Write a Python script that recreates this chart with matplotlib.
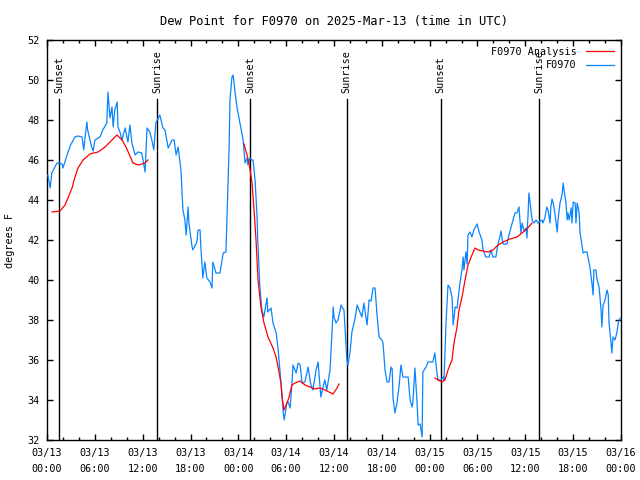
import matplotlib
matplotlib.use('Agg')
import matplotlib.pyplot as plt

plt.rcParams['font.family'] = ['DejaVu Sans Mono']
plt.rcParams['font.size'] = 7.3

title = 'Dew Point for F0970 on 2025-Mar-13 (time in UTC)'

# hours after 03/13 00:00 UTC, dew point in F
obs_hours = [0.1, 0.4, 0.6, 1.25, 1.9, 2.0, 2.4, 2.9, 3.5, 3.9, 4.4, 4.6, 5.0, 5.1, 5.6, 5.8, 6.0, 6.65, 7.0, 7.5,
             7.65, 7.9, 8.15, 8.3, 8.5, 8.8, 8.9, 9.15, 9.4, 9.8, 10.15, 10.4, 10.65, 11.05, 11.4, 11.9, 12.05, 12.3,
             12.55, 12.9, 13.15, 13.4, 13.65, 14.15, 14.55, 14.8, 15.2, 15.7, 15.95, 16.2, 16.45, 16.8, 16.95, 17.05,
             17.3, 17.45, 17.7, 17.8, 18.2, 18.3, 18.8, 18.95, 19.2, 19.3, 19.55, 19.8, 20.05, 20.45, 20.7, 20.8,
             21.2, 21.7, 22.1, 22.45, 22.6, 22.85, 22.95, 23.2, 23.35, 23.6, 23.85, 24.2, 24.6, 24.85, 25.1, 25.2,
             25.45, 25.7, 25.85, 26.1, 26.35, 26.45, 26.7, 26.95, 27.2, 27.6, 27.7, 28.1, 28.35, 28.75, 29.0, 29.25,
             29.5, 29.6, 29.75, 30.1, 30.25, 30.5, 30.75, 30.85, 31.25, 31.5, 31.75, 32.0, 32.35, 32.75, 33.1, 33.35,
             33.75, 34.0, 34.35, 34.6, 34.85, 35.1, 35.5, 35.75, 35.9, 36.0, 36.25, 36.5, 36.9, 37.0, 37.25, 37.4,
             37.6, 37.75, 38.0, 38.25, 38.65, 38.9, 39.25, 39.5, 39.75, 40.15, 40.4, 40.65, 40.9, 41.15, 41.4, 41.65,
             42.0, 42.15, 42.4, 42.65, 42.9, 43.15, 43.3, 43.4, 43.65, 43.9, 44.15, 44.4, 44.65, 44.9, 45.3, 45.55,
             45.8, 45.9, 46.15, 46.4, 46.55, 46.8, 47.05, 47.15, 47.55, 47.8, 48.4, 48.65, 48.9, 49.05, 49.4, 49.7,
             49.8, 50.05, 50.3, 50.55, 50.8, 50.95, 51.2, 51.45, 51.55, 51.8, 52.05, 52.2, 52.3, 52.55, 52.7, 52.8,
             53.05, 53.3, 53.55, 53.95, 54.2, 54.55, 54.7, 55.05, 55.45, 55.7, 55.95, 56.3, 56.55, 56.8, 56.95, 57.2,
             57.45, 57.7, 57.95, 58.35, 58.7, 58.95, 59.2, 59.45, 59.6, 59.85, 60.1, 60.2, 60.35, 60.45, 60.7, 60.85,
             61.1, 61.35, 61.6, 61.75, 62.1, 62.2, 62.45, 62.7, 62.85, 63.1, 63.2, 63.35, 63.5, 63.7, 64.0, 64.1,
             64.35, 64.6, 64.75, 64.85, 65.1, 65.25, 65.35, 65.5, 65.75, 65.85, 66.0, 66.25, 66.35, 66.5, 66.75,
             66.85, 67.1, 67.25, 67.5, 67.75, 67.85, 68.1, 68.35, 68.5, 68.6, 68.85, 69.0, 69.25, 69.5, 69.6, 69.75,
             70.0, 70.25, 70.4, 70.5, 70.75, 70.85, 71.0, 71.25, 71.5, 71.65, 71.9]
obs_dewpt = [45.25, 44.6, 45.35, 45.85, 45.8, 45.6, 46.1, 46.7, 47.15, 47.2, 47.15, 46.5, 47.9, 47.5, 46.65, 46.45,
             47.0, 47.15, 47.5, 47.85, 49.4, 48.1, 48.65, 47.65, 48.5, 48.9, 47.65, 47.4, 47.0, 47.6, 46.9, 47.75,
             46.85, 46.25, 46.4, 46.35, 46.0, 45.4, 47.6, 47.4, 47.0, 46.5, 47.85, 48.25, 47.6, 47.5, 46.6, 47.0,
             47.0, 46.25, 46.65, 45.5, 44.25, 43.5, 43.0, 42.25, 43.65, 42.85, 41.65, 41.5, 41.9, 42.5, 42.5, 41.65,
             40.1, 40.9, 40.1, 39.9, 39.6, 40.9, 40.35, 40.35, 41.35, 41.4, 43.35, 46.75, 49.0, 50.15, 50.25, 49.35,
             48.6, 47.85, 47.0, 45.85, 46.1, 45.75, 46.1, 46.0, 46.0, 45.0, 43.15, 41.85, 39.65, 38.5, 38.15, 39.1,
             38.4, 38.6, 37.85, 37.35, 36.5, 35.35, 34.15, 33.5, 33.0, 33.9, 33.9, 33.6, 35.0, 35.75, 35.35, 35.85,
             35.75, 34.85, 34.9, 35.65, 34.75, 34.5, 35.5, 35.9, 34.15, 34.6, 35.0, 34.5, 35.5, 37.35, 38.65, 38.15,
             37.85, 38.0, 38.75, 38.65, 38.5, 37.5, 36.1, 35.75, 36.35, 37.4, 38.1, 38.75, 38.4, 38.15, 38.85, 37.75,
             39.0, 38.95, 39.6, 39.6, 38.25, 37.15, 37.0, 36.85, 35.5, 34.9, 34.9, 35.65, 35.55, 34.1, 33.35, 33.85,
             34.65, 35.75, 35.15, 35.15, 35.15, 34.0, 33.65, 33.9, 35.6, 34.0, 32.75, 32.8, 32.15, 35.4, 35.65, 35.9,
             35.9, 36.35, 35.4, 35.0, 35.0, 35.15, 35.0, 37.85, 39.75, 39.6, 39.15, 37.75, 38.65, 38.6, 39.0, 39.85,
             40.5, 41.15, 40.5, 41.4, 40.8, 42.25, 42.4, 42.15, 42.5, 42.8, 42.4, 42.0, 41.5, 41.15, 41.15, 41.5,
             41.15, 41.15, 41.75, 42.15, 42.45, 41.8, 41.8, 41.8, 42.25, 42.85, 43.35, 43.35, 43.65, 42.35, 42.85,
             42.45, 42.6, 42.1, 43.35, 44.35, 43.5, 43.0, 42.85, 43.0, 42.85, 42.9, 43.0, 42.85, 43.1, 43.65, 43.5,
             42.85, 43.65, 44.05, 43.85, 43.35, 42.4, 43.0, 43.85, 44.25, 44.85, 44.5, 43.85, 43.0, 43.35, 43.0,
             43.6, 42.85, 43.9, 43.85, 42.85, 43.85, 43.35, 42.4, 41.75, 41.35, 41.4, 41.4, 41.15, 40.65, 39.85,
             39.25, 40.5, 40.5, 40.0, 39.65, 38.5, 37.65, 38.75, 39.0, 39.5, 39.25, 37.85, 36.85, 36.35, 37.15, 37.0,
             37.4, 37.85, 38.1]

# analysis runs (three separate pieces)
ana1_hours = [0.63, 1.63, 2.26, 2.63, 3.14, 3.51, 3.89, 4.52, 5.39, 6.40, 7.28, 8.15, 8.78, 9.41, 9.91, 10.41,
              10.79, 11.42, 11.92, 12.29, 12.67]
ana1_dewpt = [43.4, 43.45, 43.75, 44.1, 44.6, 45.15, 45.6, 46.0, 46.3, 46.4, 46.65, 47.0, 47.25, 47.0, 46.65, 46.2,
              45.85, 45.75, 45.8, 45.85, 46.0]
ana2_hours = [24.71, 25.09, 25.34, 25.72, 25.97, 26.22, 26.47, 26.84, 27.22, 27.72, 28.35, 28.73, 28.98, 29.35,
              29.48, 29.73, 30.11, 30.36, 30.73, 31.11, 31.74, 32.36, 32.99, 33.62, 34.25, 34.87, 35.37, 35.88,
              36.38, 36.63]
ana2_dewpt = [46.8, 46.25, 45.85, 44.85, 43.5, 42.0, 40.0, 38.65, 37.85, 37.15, 36.6, 36.15, 35.65, 34.85, 34.15,
              33.5, 33.85, 34.15, 34.75, 34.85, 34.95, 34.75, 34.65, 34.55, 34.6, 34.5, 34.4, 34.3, 34.6, 34.8]
ana3_hours = [48.67, 49.05, 49.55, 49.93, 50.30, 50.80, 51.05, 51.43, 51.68, 52.06, 52.44, 52.81, 53.31, 53.69,
              54.07, 54.69, 55.32, 55.95, 56.57, 57.20, 58.08, 58.96, 59.58, 60.21, 60.84]
ana3_dewpt = [35.1, 35.0, 34.9, 35.0, 35.5, 36.0, 36.85, 37.65, 38.5, 39.15, 40.0, 40.75, 41.25, 41.6, 41.5, 41.45,
              41.4, 41.5, 41.75, 41.9, 42.05, 42.15, 42.35, 42.55, 42.85]

sun_hours = [1.5, 13.8, 25.5, 37.6, 49.4, 61.7]
sun_labels = ['Sunset', 'Sunrise', 'Sunset', 'Sunrise', 'Sunset', 'Sunrise']

xtick_hours = list(range(0, 73, 6))
xtick_labels = ['03/13\n00:00', '03/13\n06:00', '03/13\n12:00', '03/13\n18:00',
                '03/14\n00:00', '03/14\n06:00', '03/14\n12:00', '03/14\n18:00',
                '03/15\n00:00', '03/15\n06:00', '03/15\n12:00', '03/15\n18:00', '03/16\n00:00']

red = '#ff0000'
blue = '#0a84ff'

fig = plt.figure(figsize=(6.4, 4.8), dpi=100)
ax = fig.add_axes([47/640, 40/480, 574/640, 400/480])

ax.plot(ana1_hours, ana1_dewpt, color=red, lw=0.9, zorder=4, label='F0970 Analysis')
ax.plot(ana2_hours, ana2_dewpt, color=red, lw=0.9, zorder=4)
ax.plot(ana3_hours, ana3_dewpt, color=red, lw=0.9, zorder=4)
ax.plot(obs_hours, obs_dewpt, color=blue, lw=0.9, zorder=3, label='F0970')

for h, lab in zip(sun_hours, sun_labels):
    ax.plot([h, h], [32, 49.05], color='black', lw=1, zorder=2)
    ax.text(h, 49.35, lab, rotation=90, ha='center', va='bottom')

ax.set_xlim(0, 72)
ax.set_ylim(32, 52)
ax.set_xticks(xtick_hours)
ax.set_xticklabels(xtick_labels, linespacing=1.7)
ax.set_xticks(range(0, 73, 2), minor=True)
ax.set_yticks(range(32, 53, 2))
ax.tick_params(which='both', direction='in', top=True, right=True, width=1)
ax.tick_params(which='major', length=4)
ax.tick_params(which='minor', length=2)
ax.tick_params(axis='x', pad=6)
ax.tick_params(axis='y', pad=5)
for s in ax.spines.values():
    s.set_linewidth(1)

ax.set_title(title, pad=11)
fig.text(10/640, 0.5, 'degrees F', rotation=90, ha='center', va='center')

ax.legend(loc='upper right', frameon=False, markerfirst=False, handlelength=2.8,
          handletextpad=0.9, labelspacing=0.35, borderaxespad=0.55, borderpad=0.1)

fig.savefig('out.png', dpi=100)
